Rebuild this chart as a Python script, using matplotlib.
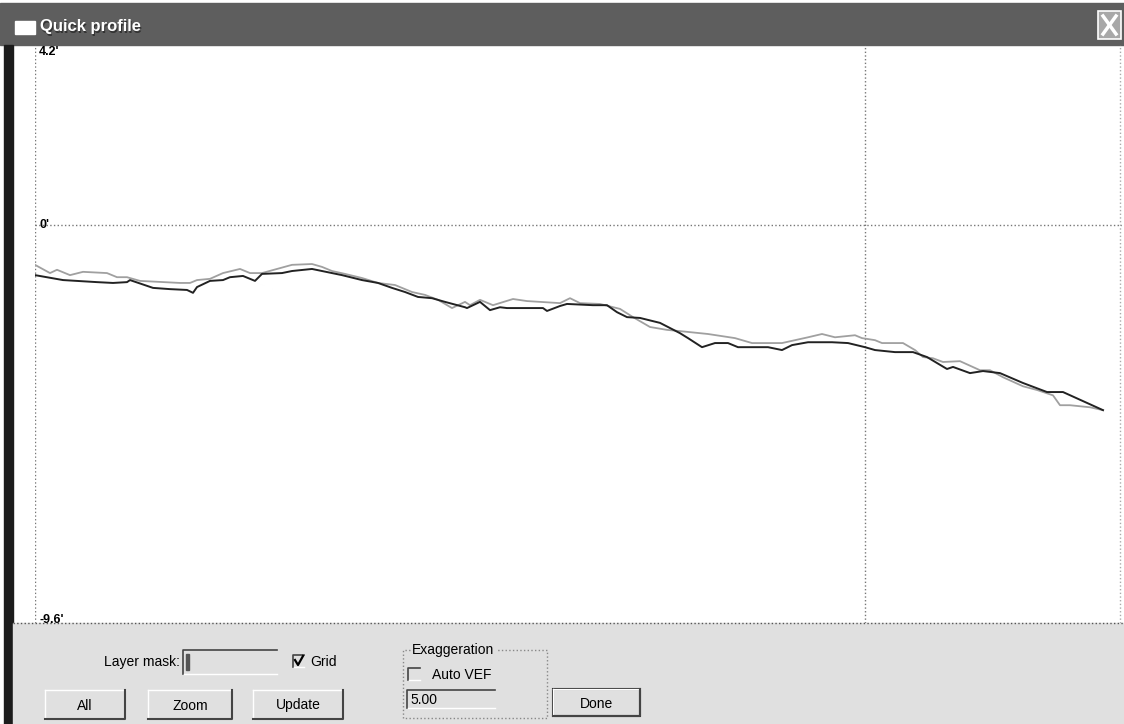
import matplotlib
matplotlib.use("Agg")
import matplotlib.pyplot as plt
from matplotlib.patches import Rectangle

plt.rcParams['font.family'] = ['Liberation Sans', 'DejaVu Sans']

# profile data: distance along section, elevation (ft)
dist_a = [0, 28, 62, 78, 92, 95, 118, 135, 152, 158, 162, 175, 188, 195, 208, 215, 220, 227,
          247, 257, 277, 287, 307, 327, 343, 357, 370, 383, 397, 410, 430, 432, 445, 455,
          465, 472, 508, 512, 525, 532, 558, 572, 582, 592, 605, 625, 645, 653, 667, 680,
          693, 703, 733, 747, 757, 773, 797, 813, 830, 840, 860, 878, 892, 912, 918, 935,
          948, 965, 988, 1012, 1028, 1068]
elev_a = [-1.22, -1.34, -1.39, -1.41, -1.39, -1.34, -1.53, -1.56, -1.58, -1.65, -1.51, -1.36,
          -1.34, -1.27, -1.24, -1.31, -1.36, -1.19, -1.17, -1.12, -1.07, -1.12, -1.22, -1.34,
          -1.41, -1.53, -1.63, -1.75, -1.78, -1.87, -2.00, -2.02, -1.87, -2.07, -2.00, -2.02,
          -2.02, -2.09, -1.97, -1.92, -1.95, -1.95, -2.12, -2.24, -2.26, -2.38, -2.63, -2.75,
          -2.97, -2.87, -2.87, -2.97, -2.97, -3.04, -2.92, -2.85, -2.85, -2.87, -2.97, -3.04,
          -3.09, -3.09, -3.21, -3.50, -3.45, -3.60, -3.55, -3.60, -3.84, -4.06, -4.06, -4.50]

dist_b = [0, 15, 22, 35, 48, 72, 82, 92, 105, 145, 155, 162, 175, 188, 205, 215, 227, 257,
          277, 287, 297, 310, 327, 343, 360, 377, 390, 403, 417, 430, 435, 445, 458, 478,
          492, 525, 535, 545, 565, 585, 598, 615, 632, 645, 673, 700, 717, 747, 773, 787,
          800, 820, 827, 840, 847, 868, 880, 888, 898, 908, 925, 945, 955, 968, 988, 1002,
          1018, 1025, 1035, 1055, 1068]
elev_b = [-0.97, -1.17, -1.09, -1.22, -1.14, -1.17, -1.27, -1.27, -1.36, -1.41, -1.41, -1.34,
          -1.31, -1.17, -1.07, -1.17, -1.17, -0.97, -0.95, -1.02, -1.12, -1.19, -1.29, -1.41,
          -1.46, -1.63, -1.70, -1.82, -2.02, -1.87, -1.95, -1.82, -1.95, -1.80, -1.85, -1.90,
          -1.78, -1.90, -1.92, -2.04, -2.24, -2.48, -2.55, -2.58, -2.65, -2.75, -2.87, -2.87,
          -2.73, -2.65, -2.73, -2.68, -2.75, -2.80, -2.87, -2.87, -3.04, -3.21, -3.24, -3.33,
          -3.31, -3.53, -3.53, -3.70, -3.92, -4.01, -4.14, -4.38, -4.38, -4.43, -4.50]

y_labels = [4.2, 0, -9.6]
grid_x = 830

W, H = 1124, 724
fig = plt.figure(figsize=(W / 100, H / 100), dpi=100)
fig.patch.set_facecolor('white')

# window chrome drawn in pixel coordinates
bg = fig.add_axes([0, 0, 1, 1], zorder=0)
bg.set_xlim(0, W)
bg.set_ylim(H, 0)
bg.axis('off')

bg.add_patch(Rectangle((0, 3), W, 42, color='#5e5e5e'))
bg.add_patch(Rectangle((15, 21), 20, 13, color='white'))
bg.text(41, 28, "Quick profile", color='#333333', fontsize=12, fontweight='bold', va='center')
bg.text(40, 27, "Quick profile", color='white', fontsize=12, fontweight='bold', va='center')
bg.add_patch(Rectangle((1098, 11), 23, 28, facecolor='#a8a8a8', edgecolor='white', lw=1.2))
bg.plot([1103, 1116], [16, 34], color='white', lw=2.5)
bg.plot([1103, 1116], [34, 16], color='white', lw=2.5)
bg.add_patch(Rectangle((4, 45), 9, H - 45, color='#1c1c1c'))
bg.add_patch(Rectangle((13, 623), W - 13, H - 623, color='#e0e0e0'))
bg.plot([13, W], [623, 623], color='#555555', lw=1, ls=':')


def button(x, y, w, h, label, default=False):
    bg.add_patch(Rectangle((x, y), w, h, facecolor='#e0e0e0', edgecolor='none'))
    bg.plot([x, x + w], [y, y], color='white', lw=1)
    bg.plot([x, x], [y, y + h], color='white', lw=1)
    bg.plot([x, x + w, x + w], [y + h, y + h, y], color='#444444', lw=1.5)
    if default:
        bg.add_patch(Rectangle((x, y), w, h, facecolor='none', edgecolor='#222222', lw=1.5))
    bg.text(x + w / 2, y + h / 2 + 1, label, ha='center', va='center', fontsize=10)


def sunken(x, y, w, h):
    bg.plot([x, x, x + w], [y + h, y, y], color='#444444', lw=1.2)
    bg.plot([x + 1, x + w], [y + h, y + h], color='white', lw=1)


bg.text(180, 662, "Layer mask:", ha='right', va='center', fontsize=10)
sunken(183, 650, 94, 24)
bg.add_patch(Rectangle((186, 654), 3, 16, color='#555555'))
sunken(293, 655, 11, 12)
bg.plot([295, 298, 303], [660, 665, 656], color='black', lw=1.6)
bg.text(310, 662, "Grid", va='center', fontsize=10)

button(45, 690, 80, 29, "All")
button(148, 690, 84, 29, "Zoom")
button(253, 690, 90, 29, "Update")

bg.plot([410, 403, 403, 547, 547, 497], [650, 650, 718, 718, 650, 650], color='#888888', lw=1, ls=':')
bg.text(412, 650, "Exaggeration", va='center', fontsize=10)
sunken(408, 668, 12, 12)
bg.text(432, 675, "Auto VEF", va='center', fontsize=10)
sunken(407, 690, 88, 18)
bg.text(410, 700, "5.00", va='center', fontsize=10)
button(553, 689, 87, 27, "Done", default=True)

# profile plot
ax = fig.add_axes([35 / W, 1 - 623 / H, 1087 / W, 578 / H], zorder=1)
ax.patch.set_alpha(0)
ax.set_xlim(0, 1087)
ax.set_ylim(-9.67, 4.37)
for s in ax.spines.values():
    s.set_visible(False)
ax.set_xticks([])
ax.set_yticks([])

ax.axvline(0, color='#777777', lw=1, ls=':')
ax.axvline(grid_x, color='#777777', lw=1, ls=':')
ax.axvline(1085, color='#aaaaaa', lw=1, ls=':')
ax.axhline(0, color='#777777', lw=1, ls=':')

ax.plot(dist_b, elev_b, color='#a0a0a0', lw=1.3)
ax.plot(dist_a, elev_a, color='#222222', lw=1.4)

for v in y_labels:
    ax.text(4, v, "%g'" % v, fontsize=9, fontweight='bold', va='center', ha='left')

fig.savefig("out.png", dpi=100)
